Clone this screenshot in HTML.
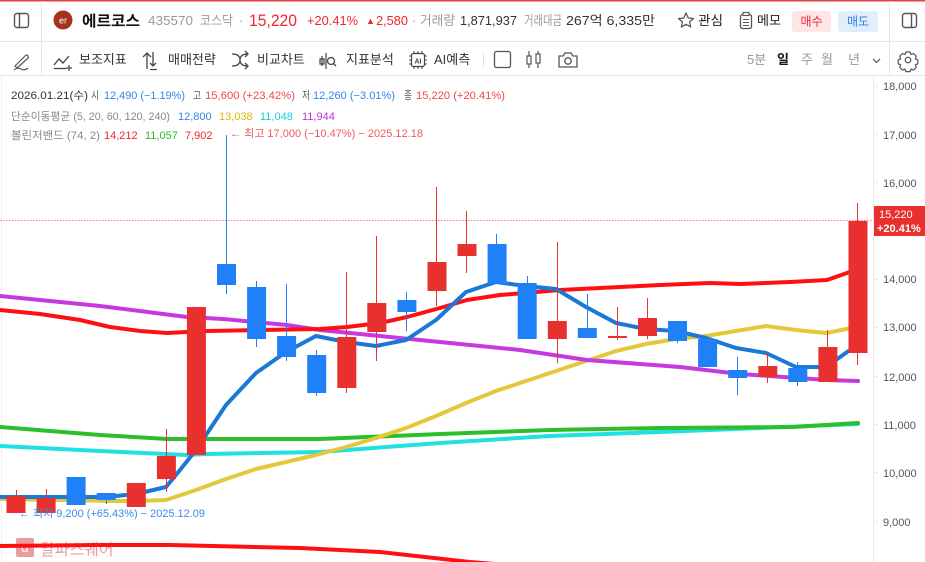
<!DOCTYPE html>
<html><head><meta charset="utf-8"><style>
html,body{margin:0;padding:0;background:#fff;}
body{width:925px;height:562px;overflow:hidden;}
svg{display:block;font-family:"Liberation Sans","Noto Sans CJK KR",sans-serif;}
</style></head><body>
<svg width="925" height="562" viewBox="0 0 925 562" xmlns="http://www.w3.org/2000/svg">
<rect x="0" y="0" width="925" height="562" fill="#fff"/>
<rect x="0" y="0" width="925" height="1.5" fill="#e04040"/>
<line x1="0" y1="41.5" x2="925" y2="41.5" stroke="#e6e6e6" stroke-width="1"/>
<line x1="0" y1="75.5" x2="925" y2="75.5" stroke="#e6e6e6" stroke-width="1"/>
<line x1="41.5" y1="1" x2="41.5" y2="75" stroke="#e6e6e6" stroke-width="1"/>
<line x1="889.5" y1="1" x2="889.5" y2="75" stroke="#e6e6e6" stroke-width="1"/>

<rect x="14.5" y="13.5" width="14" height="14" rx="2.5" fill="none" stroke="#555" stroke-width="1.4"/>
<line x1="19.5" y1="14" x2="19.5" y2="27" stroke="#555" stroke-width="1.4"/>
<circle cx="63" cy="20" r="9.5" fill="#a3321f"/>
<text x="63" y="23.5" font-size="9" fill="#fff" text-anchor="middle">er</text>
<text x="82" y="26" font-size="15" font-weight="bold" fill="#111" textLength="58" lengthAdjust="spacingAndGlyphs">에르코스</text>
<text x="148" y="25" font-size="13" fill="#9a9a9a" textLength="45" lengthAdjust="spacingAndGlyphs">435570</text>
<text x="200" y="25" font-size="13" fill="#9a9a9a" textLength="33" lengthAdjust="spacingAndGlyphs">코스닥</text>
<text x="239" y="25" font-size="13" fill="#9a9a9a">·</text>
<text x="249" y="26" font-size="16.5" fill="#f0262e" textLength="48" lengthAdjust="spacingAndGlyphs">15,220</text>
<text x="307" y="25" font-size="13" fill="#f0262e" textLength="51" lengthAdjust="spacingAndGlyphs">+20.41%</text>
<text x="366" y="24" font-size="9" fill="#f0262e">▲</text>
<text x="376" y="25" font-size="13" fill="#f0262e" textLength="32" lengthAdjust="spacingAndGlyphs">2,580</text>
<text x="412" y="25" font-size="13" fill="#9a9a9a">·</text>
<text x="420" y="25" font-size="13" fill="#9a9a9a" textLength="35" lengthAdjust="spacingAndGlyphs">거래량</text>
<text x="460" y="25" font-size="13" fill="#333" textLength="57" lengthAdjust="spacingAndGlyphs">1,871,937</text>
<text x="524" y="25" font-size="13" fill="#9a9a9a" textLength="38" lengthAdjust="spacingAndGlyphs">거래대금</text>
<text x="566" y="25" font-size="13" fill="#333" textLength="89" lengthAdjust="spacingAndGlyphs">267억 6,335만</text>
<path d="M686,13 L688.2,18 L693.5,18.5 L689.5,22 L690.7,27 L686,24.3 L681.3,27 L682.5,22 L678.5,18.5 L683.8,18 Z" fill="none" stroke="#555" stroke-width="1.2" stroke-linejoin="round"/>
<text x="698" y="25" font-size="13" fill="#222" textLength="25" lengthAdjust="spacingAndGlyphs">관심</text>
<rect x="740.5" y="14.5" width="11" height="14" rx="2" fill="none" stroke="#555" stroke-width="1.3"/>
<rect x="743" y="12.5" width="6" height="3" fill="#fff" stroke="#555" stroke-width="1.1"/>
<line x1="743" y1="19.5" x2="749" y2="19.5" stroke="#555" stroke-width="1"/>
<line x1="743" y1="22.5" x2="749" y2="22.5" stroke="#555" stroke-width="1"/>
<line x1="743" y1="25.5" x2="749" y2="25.5" stroke="#555" stroke-width="1"/>
<text x="757" y="25" font-size="13" fill="#222" textLength="24" lengthAdjust="spacingAndGlyphs">메모</text>
<rect x="792" y="11" width="39" height="21" rx="3" fill="#fde6e6"/>
<text x="811.5" y="25.5" font-size="12" fill="#f0262e" text-anchor="middle">매수</text>
<rect x="838" y="11" width="40" height="21" rx="3" fill="#e1effd"/>
<text x="858" y="25.5" font-size="12" fill="#2a7ee6" text-anchor="middle">매도</text>
<rect x="902.5" y="13.5" width="14" height="14" rx="2.5" fill="none" stroke="#555" stroke-width="1.4"/>
<line x1="911.5" y1="14" x2="911.5" y2="27" stroke="#555" stroke-width="1.4"/>

<path d="M15,66 L25,56 Q27,54 28,56 Q29,58 27,59 L17,68 Z" fill="none" stroke="#555" stroke-width="1.2"/>
<path d="M14,70 Q18,67 21,69 Q24,71 28,68" fill="none" stroke="#555" stroke-width="1.2"/>
<path d="M54,65 L59,59 L63,63 L69,56" fill="none" stroke="#444" stroke-width="1.3"/>
<line x1="54" y1="68.5" x2="66" y2="68.5" stroke="#444" stroke-width="1.3"/>
<line x1="69" y1="65" x2="69" y2="71" stroke="#444" stroke-width="1.2"/><line x1="66" y1="68" x2="72" y2="68" stroke="#444" stroke-width="1.2"/>
<text x="79" y="64" font-size="13" fill="#333">보조지표</text>
<path d="M147,69 L147,53 M143,57 L147,53 L151,57" fill="none" stroke="#444" stroke-width="1.3"/>
<path d="M153,52 L153,66 M150,63 L153,66 L156,63 M150,69.5 L157,69.5" fill="none" stroke="#444" stroke-width="1.3"/>
<text x="168" y="64" font-size="13" fill="#333">매매전략</text>
<path d="M232,54 Q240,54 240,60 Q240,66 248,66 M232,66 Q240,66 240,60 Q240,54 248,54 M245,51 L248,54 L245,57 M245,63 L248,66 L245,69" fill="none" stroke="#444" stroke-width="1.3"/>
<text x="257" y="64" font-size="13" fill="#333">비교차트</text>
<path d="M322,56 L322,66 M326,53 L326,69 M320,59 L324,59 L324,64 L320,64 Z" fill="none" stroke="#444" stroke-width="1.2"/>
<circle cx="331" cy="61" r="3.5" fill="none" stroke="#444" stroke-width="1.3"/><line x1="333.5" y1="63.5" x2="336" y2="66" stroke="#444" stroke-width="1.3"/>
<text x="346" y="64" font-size="13" fill="#333">지표분석</text>
<rect x="411.5" y="53.5" width="13" height="13" rx="2" fill="none" stroke="#444" stroke-width="1.2"/>
<path d="M414,51 v2 M418,51 v2 M422,51 v2 M414,67 v2 M418,67 v2 M422,67 v2 M409,56 h2 M409,60 h2 M409,64 h2 M425,56 h2 M425,60 h2 M425,64 h2" stroke="#444" stroke-width="1"/>
<text x="418" y="63.5" font-size="7" fill="#444" text-anchor="middle" font-weight="bold">AI</text>
<text x="434" y="64" font-size="13" fill="#333">AI예측</text>
<line x1="483.5" y1="53" x2="483.5" y2="67" stroke="#ddd" stroke-width="1"/>
<rect x="494.5" y="51.5" width="16" height="16" rx="2" fill="none" stroke="#555" stroke-width="1.3"/>
<path d="M529,51 v17 M538,51 v17" stroke="#555" stroke-width="1.2"/>
<rect x="527" y="56" width="4" height="8" fill="#fff" stroke="#555" stroke-width="1.2"/>
<rect x="536" y="54" width="4" height="9" fill="#fff" stroke="#555" stroke-width="1.2"/>
<path d="M559,56 h4 l2,-3 h6 l2,3 h4 v11 h-18 Z" fill="none" stroke="#555" stroke-width="1.3" stroke-linejoin="round"/>
<circle cx="568" cy="61" r="3.2" fill="none" stroke="#555" stroke-width="1.3"/>
<text x="747" y="64" font-size="13" fill="#999">5분</text>
<text x="777" y="64" font-size="13" fill="#111" font-weight="bold">일</text>
<text x="801" y="64" font-size="13" fill="#999">주</text>
<text x="821" y="64" font-size="13" fill="#999">월</text>
<text x="848" y="64" font-size="13" fill="#999">년</text>
<path d="M873,59 L876.5,62.5 L880,59" fill="none" stroke="#666" stroke-width="1.3"/>
<g transform="translate(908,60)">
<path d="M-2,-8 h4 l1,2.5 l2.5,-1 l2.8,2.8 l-1,2.5 l2.5,1 v4 l-2.5,1 l1,2.5 l-2.8,2.8 l-2.5,-1 l-1,2.5 h-4 l-1,-2.5 l-2.5,1 l-2.8,-2.8 l1,-2.5 l-2.5,-1 v-4 l2.5,-1 l-1,-2.5 l2.8,-2.8 l2.5,1 Z" fill="none" stroke="#555" stroke-width="1.2" stroke-linejoin="round"/>
<circle cx="0" cy="0" r="2.8" fill="none" stroke="#555" stroke-width="1.2"/>
</g>

<line x1="873.5" y1="76" x2="873.5" y2="562" stroke="#ebebeb" stroke-width="1"/>
<line x1="1.5" y1="76" x2="1.5" y2="562" stroke="#f0f0f0" stroke-width="1"/>

<g font-size="11" fill="#555">
<text x="883" y="90">18,000</text>
<text x="883" y="139">17,000</text>
<text x="883" y="187">16,000</text>
<text x="883" y="283">14,000</text>
<text x="883" y="331">13,000</text>
<text x="883" y="381">12,000</text>
<text x="883" y="429">11,000</text>
<text x="883" y="477">10,000</text>
<text x="883" y="526">9,000</text>
</g>
<g stroke="#eee" stroke-width="1">
<line x1="874" y1="86.5" x2="878" y2="86.5"/><line x1="874" y1="134.5" x2="878" y2="134.5"/><line x1="874" y1="182.5" x2="878" y2="182.5"/>
<line x1="874" y1="279.5" x2="878" y2="279.5"/><line x1="874" y1="327.5" x2="878" y2="327.5"/><line x1="874" y1="376.5" x2="878" y2="376.5"/>
<line x1="874" y1="424.5" x2="878" y2="424.5"/><line x1="874" y1="472.5" x2="878" y2="472.5"/><line x1="874" y1="521.5" x2="878" y2="521.5"/>
</g>

<g opacity="0.55">
<rect x="16" y="538" width="18" height="19" rx="2" fill="#d85050"/>
<text x="25" y="552" font-size="13" fill="#fff" text-anchor="middle">α</text>
<text x="40" y="555" font-size="16" fill="#d85050">알파스퀘어</text>
</g>

<line x1="0" y1="220.5" x2="873" y2="220.5" stroke="#f08080" stroke-width="1" stroke-dasharray="1.5,1.5"/>

<g fill="none" stroke-width="4" stroke-linejoin="round" stroke-linecap="round">
<polyline stroke="#ff1010" points="0,546 100,545 170,545 300,548 380,552 470,562 520,566"/>
<polyline stroke="#22e0e0" points="0,446 100,451 187,455 207,454 320,452 440,443 550,436 660,432 760,428 858,424"/>
<polyline stroke="#2cbe2c" points="0,427 100,435 167,439 320,439 440,434 550,430 660,428 793,427 858,423"/>
<polyline stroke="#e3c93a" points="0,499 16,499 46,500 76,500 106,501 136,501 166,500 196,490 226,479 256,469 286,462 316,455 346,447 376,438 406,428 436,416 466,403 496,391 526,381 556,371 586,361 616,351 646,344 676,339 706,336 736,331 766,326 796,330 826,333 857,327"/>
<polyline stroke="#c43ae0" points="0,296 100,306 187,317 223,319 287,325 320,330 380,336 440,342 520,350 587,360 680,367 740,374 827,380 858,381"/>
<polyline stroke="#ff1010" points="0,310 40,314 80,320 110,327 140,331 167,333 207,331 320,329 347,327 380,323 407,317 440,308 467,300 500,295 560,290 620,287 660,285 710,283 740,284 790,282 827,280 847,273 858,269"/>
<polyline stroke="#1a78d6" points="0,497 16,497 46,497 76,497 106,497 136,494 166,487 180,470 196,450 226,405 256,373 286,352 316,336 346,342 376,346 406,340 436,320 466,292 496,282 526,286 556,289 586,307 616,323 646,329 676,331 706,338 736,348 766,353 796,367 826,367 857,345"/>
</g>

<g>
<g stroke-width="1">
<line x1="16.5" y1="490" x2="16.5" y2="513" stroke="#e8302f"/>
<line x1="46.5" y1="489" x2="46.5" y2="513" stroke="#e8302f"/>
<line x1="106.5" y1="493" x2="106.5" y2="504" stroke="#1f80f8"/>
<line x1="166.5" y1="429" x2="166.5" y2="492" stroke="#e8302f"/>
<line x1="226.5" y1="135" x2="226.5" y2="294" stroke="#1f80f8"/>
<line x1="256.5" y1="281" x2="256.5" y2="347" stroke="#1f80f8"/>
<line x1="286.5" y1="284" x2="286.5" y2="361" stroke="#1f80f8"/>
<line x1="316.5" y1="350" x2="316.5" y2="396" stroke="#1f80f8"/>
<line x1="346.5" y1="272" x2="346.5" y2="393" stroke="#e8302f"/>
<line x1="376.5" y1="236" x2="376.5" y2="361" stroke="#e8302f"/>
<line x1="406.5" y1="292" x2="406.5" y2="331" stroke="#1f80f8"/>
<line x1="436.5" y1="187" x2="436.5" y2="306" stroke="#e8302f"/>
<line x1="466.5" y1="211" x2="466.5" y2="273" stroke="#e8302f"/>
<line x1="496.5" y1="234" x2="496.5" y2="284" stroke="#1f80f8"/>
<line x1="527.5" y1="276" x2="527.5" y2="339" stroke="#1f80f8"/>
<line x1="557.5" y1="242" x2="557.5" y2="363" stroke="#e8302f"/>
<line x1="587.5" y1="294" x2="587.5" y2="338" stroke="#1f80f8"/>
<line x1="617.5" y1="307" x2="617.5" y2="340" stroke="#e8302f"/>
<line x1="647.5" y1="298" x2="647.5" y2="339" stroke="#e8302f"/>
<line x1="677.5" y1="321" x2="677.5" y2="343" stroke="#1f80f8"/>
<line x1="737.5" y1="357" x2="737.5" y2="395" stroke="#1f80f8"/>
<line x1="767.5" y1="352" x2="767.5" y2="383" stroke="#e8302f"/>
<line x1="797.5" y1="362" x2="797.5" y2="386" stroke="#1f80f8"/>
<line x1="827.5" y1="330" x2="827.5" y2="382" stroke="#e8302f"/>
<line x1="857.5" y1="203" x2="857.5" y2="365" stroke="#e8302f"/>
</g>
<rect x="6.5" y="496" width="19" height="17" fill="#e8302f"/>
<rect x="36.6" y="498" width="19" height="15" fill="#e8302f"/>
<rect x="66.6" y="477" width="19" height="28" fill="#1f80f8"/>
<rect x="96.7" y="493" width="19" height="7" fill="#1f80f8"/>
<rect x="126.8" y="483" width="19" height="24" fill="#e8302f"/>
<rect x="156.9" y="456" width="19" height="23" fill="#e8302f"/>
<rect x="186.9" y="307" width="19" height="148" fill="#e8302f"/>
<rect x="217" y="264" width="19" height="21" fill="#1f80f8"/>
<rect x="247.1" y="287" width="19" height="52" fill="#1f80f8"/>
<rect x="277.1" y="336" width="19" height="21" fill="#1f80f8"/>
<rect x="307.2" y="355" width="19" height="38" fill="#1f80f8"/>
<rect x="337.3" y="337" width="19" height="51" fill="#e8302f"/>
<rect x="367.3" y="303" width="19" height="29" fill="#e8302f"/>
<rect x="397.4" y="300" width="19" height="12" fill="#1f80f8"/>
<rect x="427.5" y="262" width="19" height="29" fill="#e8302f"/>
<rect x="457.5" y="244" width="19" height="12" fill="#e8302f"/>
<rect x="487.6" y="244" width="19" height="40" fill="#1f80f8"/>
<rect x="517.7" y="283" width="19" height="56" fill="#1f80f8"/>
<rect x="547.8" y="321" width="19" height="18" fill="#e8302f"/>
<rect x="577.8" y="328" width="19" height="10" fill="#1f80f8"/>
<rect x="607.9" y="336" width="19" height="2" fill="#e8302f"/>
<rect x="638" y="318" width="19" height="18" fill="#e8302f"/>
<rect x="668" y="321" width="19" height="20" fill="#1f80f8"/>
<rect x="698.1" y="339" width="19" height="28" fill="#1f80f8"/>
<rect x="728.2" y="370" width="19" height="8" fill="#1f80f8"/>
<rect x="758.3" y="366" width="19" height="11" fill="#e8302f"/>
<rect x="788.3" y="368" width="19" height="14" fill="#1f80f8"/>
<rect x="818.4" y="347" width="19" height="35" fill="#e8302f"/>
<rect x="848.5" y="221" width="19" height="132" fill="#e8302f"/>
</g>

<rect x="874" y="206" width="51" height="30" fill="#e8302f"/>
<text x="879" y="218" font-size="11" fill="#fff">15,220</text>
<text x="877" y="232" font-size="11" fill="#fff" font-weight="bold">+20.41%</text>

<text x="230" y="137" font-size="11" fill="#f05a5a" textLength="193" lengthAdjust="spacingAndGlyphs">← 최고 17,000 (−10.47%) − 2025.12.18</text>
<text x="19" y="517" font-size="11" fill="#3a8ae8" textLength="186" lengthAdjust="spacingAndGlyphs">← 최저 9,200 (+65.43%) − 2025.12.09</text>

<g font-size="11">
<text x="11" y="99" fill="#333" textLength="77" lengthAdjust="spacingAndGlyphs">2026.01.21(수)</text>
<text x="91" y="99" fill="#555" textLength="8" lengthAdjust="spacingAndGlyphs">시</text>
<text x="104" y="99" fill="#3385e8" textLength="81" lengthAdjust="spacingAndGlyphs">12,490 (−1.19%)</text>
<text x="193" y="99" fill="#555" textLength="8" lengthAdjust="spacingAndGlyphs">고</text>
<text x="205" y="99" fill="#f0464a" textLength="90" lengthAdjust="spacingAndGlyphs">15,600 (+23.42%)</text>
<text x="302" y="99" fill="#555" textLength="8" lengthAdjust="spacingAndGlyphs">저</text>
<text x="313" y="99" fill="#3385e8" textLength="82" lengthAdjust="spacingAndGlyphs">12,260 (−3.01%)</text>
<text x="404" y="99" fill="#555" textLength="8" lengthAdjust="spacingAndGlyphs">종</text>
<text x="416" y="99" fill="#f0464a" textLength="89" lengthAdjust="spacingAndGlyphs">15,220 (+20.41%)</text>
<text x="11" y="120" fill="#888" textLength="159" lengthAdjust="spacingAndGlyphs">단순이동평균 (5, 20, 60, 120, 240)</text>
<text x="178" y="120" fill="#3385e8">12,800</text>
<text x="219" y="120" fill="#d8b800">13,038</text>
<text x="260" y="120" fill="#18d0d8">11,048</text>
<text x="302" y="120" fill="#c030e0">11,944</text>
<text x="11" y="139" fill="#888" textLength="89" lengthAdjust="spacingAndGlyphs">볼린저밴드 (74, 2)</text>
<text x="104" y="139" fill="#f0262e">14,212</text>
<text x="145" y="139" fill="#2cb82c">11,057</text>
<text x="185" y="139" fill="#f0262e">7,902</text>
</g>
</svg>
</body></html>
